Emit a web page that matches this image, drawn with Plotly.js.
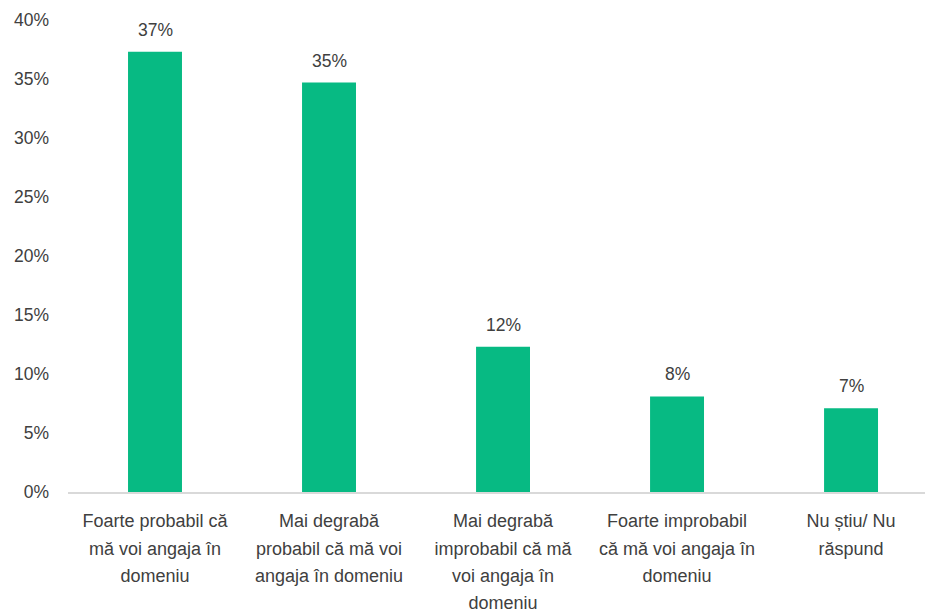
<!DOCTYPE html>
<html>
<head>
<meta charset="utf-8">
<script src="https://cdn.plot.ly/plotly-3.0.1.min.js"></script>
<style>html,body{margin:0;padding:0;background:#fff;}#chart{width:925px;height:613px;}</style>
</head>
<body>
<div id="chart"></div>
<script>
const categories = [
  "Foarte probabil că\nmă voi angaja în\ndomeniu",
  "Mai degrabă\nprobabil că mă voi\nangaja în domeniu",
  "Mai degrabă\nimprobabil că mă\nvoi angaja în\ndomeniu",
  "Foarte improbabil\ncă mă voi angaja în\ndomeniu",
  "Nu știu/ Nu\nrăspund"
];
const values = [0.373, 0.347, 0.123, 0.081, 0.071];
const valueLabels = ["37%", "35%", "12%", "8%", "7%"];
const yTickVals = [0, 0.05, 0.10, 0.15, 0.20, 0.25, 0.30, 0.35, 0.40];

const idx = categories.map((c, i) => i);
const tickText = categories.map(c => c.split("\n").map(l => '<span style="font-size:18px">' + l + '</span>').join("<br>"));

const trace = {
  type: 'bar',
  x: idx,
  y: values,
  width: 0.31,
  marker: {color: '#07BA83'},
  hoverinfo: 'none'
};

const annotations = idx.map(i => ({
  x: i, y: values[i], xref: 'x', yref: 'y',
  text: valueLabels[i], showarrow: false,
  yanchor: 'bottom', yshift: 10,
  font: {family: 'Liberation Sans, Arial, sans-serif', size: 17.5, color: '#404040'}
}));

const layout = {
  width: 925, height: 613,
  margin: {l: 68, r: 0, t: 20, b: 121},
  paper_bgcolor: '#fff', plot_bgcolor: '#fff',
  showlegend: false,
  font: {family: 'Liberation Sans, Arial, sans-serif', color: '#404040'},
  annotations: annotations,
  xaxis: {
    range: [-0.5, 4.425],
    tickvals: idx,
    ticktext: tickText,
    tickangle: 0,
    tickfont: {size: 21, color: '#404040'},
    showline: true, linecolor: '#d9d9d9', linewidth: 2,
    showgrid: false, zeroline: false, ticks: '',
    ticklabelstandoff: 8
  },
  yaxis: {
    range: [0, 0.4],
    tickvals: yTickVals,
    tickformat: '.0%',
    tickfont: {size: 17.5, color: '#404040'},
    showgrid: false, zeroline: false, showline: false, ticks: '',
    ticklabelstandoff: 18
  },
  bargap: 0.69
};

Plotly.newPlot('chart', [trace], layout, {displayModeBar: false, staticPlot: true});
</script>
</body>
</html>
